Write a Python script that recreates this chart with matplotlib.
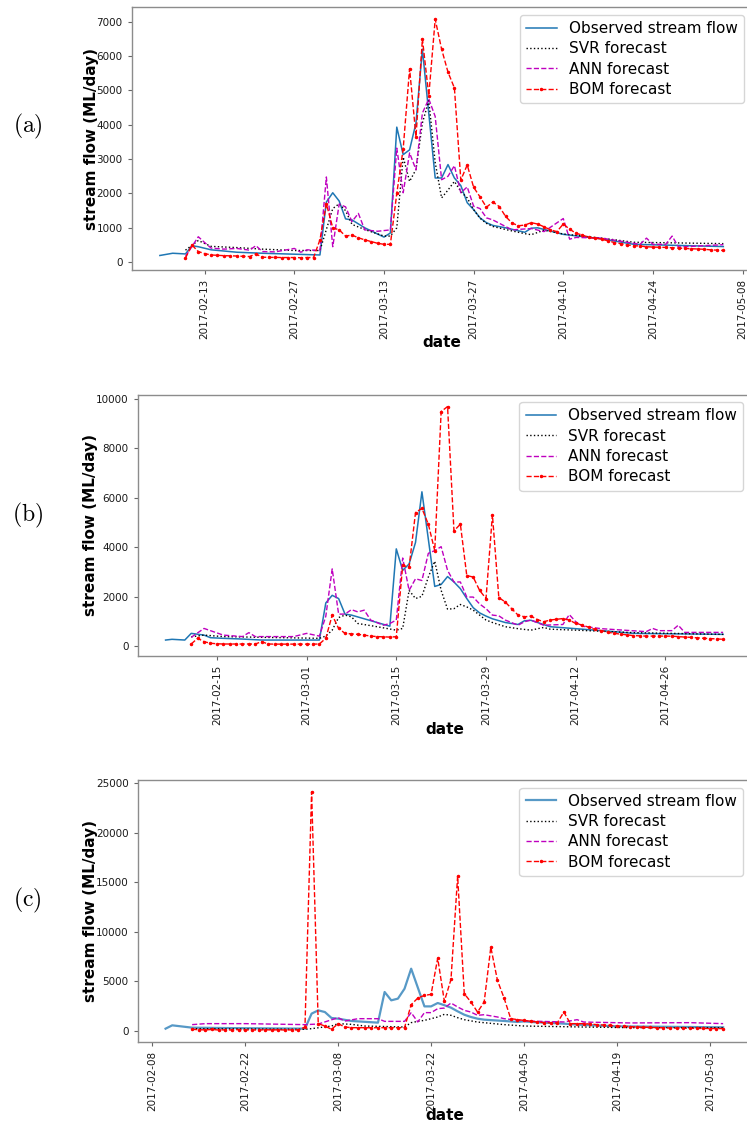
import matplotlib
matplotlib.use('Agg')
import matplotlib.pyplot as plt
import matplotlib.dates as mdates
import pandas as pd

# ---------------- Panel (a) ----------------
A_OBS_D = ['02-06','02-08','02-10','02-11','02-12','02-14','02-18','02-22','03-03','03-04','03-05','03-06','03-07','03-08','03-10','03-13','03-14','03-15','03-16','03-17','03-18','03-19','03-21','03-22','03-23','03-24','03-25','03-26','03-27','03-28','03-29','03-30','04-01','04-04','04-05','04-06','04-10','04-16','04-21','05-05']
A_OBS_V = [195,260,240,480,450,360,290,260,210,1750,2020,1780,1260,1230,1000,730,850,3930,3130,3270,4050,6200,2450,2450,2840,2450,2230,1730,1530,1290,1150,1070,1000,870,990,1000,810,680,520,455]

A_SVR_D = ['02-10','02-12','02-14','02-18','02-22','02-27','03-03','03-05','03-06','03-07','03-08','03-10','03-13','03-14','03-15','03-16','03-17','03-18','03-19','03-20','03-21','03-22','03-23','03-24','03-25','03-26','03-27','03-28','03-29','03-30','04-01','04-04','04-05','04-07','04-10','04-16','04-21','05-05']
A_SVR_V = [350,630,460,425,380,340,340,1560,1700,1500,1100,950,760,760,1000,3060,2350,2700,4050,4700,2900,1870,2100,2350,2060,1870,1530,1280,1130,1040,950,830,800,930,820,700,580,540]

A_ANN_D = ['02-10','02-12','02-13','02-14','02-16','02-18','02-20','02-21','02-22','02-24','02-27','02-28','03-01','03-03','03-04','03-05','03-06','03-07','03-08','03-09','03-10','03-12','03-14','03-15','03-16','03-17','03-18','03-19','03-20','03-21','03-22','03-23','03-24','03-25','03-26','03-27','03-28','03-29','03-30','04-02','04-05','04-07','04-10','04-11','04-12','04-16','04-22','04-23','04-24','04-26','04-27','04-28','05-05']
A_ANN_V = [165,740,570,410,380,400,350,480,310,300,400,290,360,340,2480,450,1690,1610,1180,1420,940,900,940,3320,2020,3180,2690,4340,4750,4240,2400,2500,2810,2020,2190,1630,1560,1290,1230,940,980,890,1270,670,720,700,520,700,520,520,760,440,510]

A_BOM_START = '2017-02-10'
A_BOM_V = [120,500,310,250,210,200,190,185,180,170,165,240,145,140,140,135,135,135,130,
           135,135,650,1700,1000,940,760,790,710,650,600,550,520,520,2000,3300,5630,3650,6500,4850,7070,6200,5530,5070,2390,2830,2180,1900,1600,1750,1620,
           1330,1140,1060,1080,1150,1110,1030,940,890,1110,960,840,790,720,700,670,620,570,540,500,480,470,450,440,435,430,420,410,400,390,
           385,375,360,350,340]
A_TICKS = ['2017-02-13','2017-02-27','2017-03-13','2017-03-27','2017-04-10','2017-04-24','2017-05-08']

# ---------------- Panel (b) ----------------
B_OBS_D = ['02-07','02-08','02-10','02-11','02-13','02-14','02-16','02-19','02-22','03-03','03-04','03-05','03-06','03-07','03-08','03-14','03-15','03-16','03-17','03-18','03-19','03-21','03-22','03-23','03-24','03-25','03-26','03-27','03-28','03-29','03-30','04-01','04-03','04-04','04-05','04-08','04-12','04-18','04-21','05-05']
B_OBS_V = [240,270,240,510,440,335,310,280,240,240,1740,2050,1920,1290,1250,800,3930,3060,3320,4190,6240,2410,2490,2810,2590,2320,1920,1550,1340,1210,1100,950,870,1020,1040,780,700,580,510,470]

B_SVR_D = ['02-11','02-13','02-16','02-22','03-03','03-04','03-05','03-06','03-07','03-08','03-09','03-12','03-15','03-16','03-17','03-18','03-19','03-20','03-21','03-22','03-23','03-24','03-25','03-26','03-27','03-28','03-29','03-30','04-01','04-03','04-05','04-07','04-08','04-12','04-21','05-05']
B_SVR_V = [370,440,380,350,310,400,640,1150,1250,1180,910,780,640,710,2250,1920,2010,2790,3430,2250,1490,1510,1680,1580,1450,1250,1050,950,780,700,640,750,680,640,540,470]

B_ANN_D = ['02-11','02-13','02-14','02-16','02-19','02-20','02-21','02-27','03-01','03-03','03-04','03-05','03-06','03-07','03-08','03-09','03-10','03-11','03-13','03-14','03-15','03-16','03-17','03-18','03-19','03-20','03-21','03-22','03-23','03-24','03-25','03-26','03-27','03-28','03-29','03-30','03-31','04-01','04-03','04-04','04-05','04-07','04-10','04-11','04-12','04-13','04-16','04-23','04-24','04-25','04-27','04-28','04-29','05-05']
B_ANN_V = [350,710,620,440,380,540,380,380,510,400,1200,3120,1290,1290,1470,1380,1450,1050,840,910,1050,3560,2250,2720,2650,3750,3860,4020,3060,2590,2590,1980,1980,1700,1510,1250,1220,1050,840,980,1050,840,870,1270,980,800,700,580,710,620,620,840,550,550]

B_BOM_START = '2017-02-11'
B_BOM_V = [80,310,175,110,90,80,80,80,80,80,80,175,80,75,75,75,75,75,
           75,75,80,310,1250,710,510,490,470,440,400,380,370,360,375,3260,3190,5400,5570,4930,3860,9490,9690,4660,4930,2850,2790,2250,1920,5310,1960,
           1780,1510,1250,1180,1210,1070,980,1050,1080,1110,1050,910,850,760,670,620,560,510,480,450,420,410,400,400,400,400,395,380,360,350,
           330,310,300,285,270]
B_TICKS = ['2017-02-15','2017-03-01','2017-03-15','2017-03-29','2017-04-12','2017-04-26']

# ---------------- Panel (c) ----------------
C_OBS_D = ['02-10','02-11','02-14','02-20','03-03','03-04','03-05','03-06','03-07','03-08','03-10','03-14','03-15','03-16','03-17','03-18','03-19','03-21','03-22','03-23','03-24','03-25','03-26','03-27','03-28','03-29','03-30','04-02','04-04','04-05','04-06','04-11','04-13','04-19','05-05']
C_OBS_V = [235,570,335,290,235,1750,2080,1910,1310,1240,1010,840,3930,3090,3260,4260,6280,2480,2480,2820,2600,2350,1980,1640,1410,1240,1140,1010,910,970,910,740,640,470,370]

C_SVR_D = ['02-14','02-22','03-03','03-04','03-07','03-08','03-10','03-12','03-18','03-19','03-20','03-21','03-22','03-23','03-24','03-25','03-26','03-27','03-29','04-02','04-05','04-14','04-21','05-05']
C_SVR_V = [235,200,170,235,500,740,670,500,400,840,970,1070,1240,1410,1680,1580,1340,1140,900,640,500,400,335,335]

C_ANN_D = ['02-14','02-16','02-22','03-03','03-05','03-08','03-09','03-11','03-14','03-15','03-18','03-19','03-20','03-21','03-22','03-23','03-24','03-25','03-26','03-27','03-28','03-29','03-30','04-01','04-02','04-05','04-11','04-13','04-14','04-21','04-30','05-05']
C_ANN_V = [640,740,740,640,700,1340,1000,1240,1240,970,970,1850,910,1850,1850,2250,2310,2820,2420,2080,1910,1580,1640,1410,1240,1010,910,1140,900,810,840,740]

C_BOM_START = '2017-02-14'
C_BOM_V = [170,130,110,150,100,120,100,140,100,110,90,130,100,120,100,
           110,100,400,24100,740,500,170,740,400,335,330,335,320,335,330,340,335,335,2650,3320,3590,3690,7340,2990,5200,15600,3760,2920,1910,2920,8450,
           5100,3320,1240,1150,1070,980,900,850,820,800,1910,740,740,740,700,640,600,560,500,470,440,400,380,360,340,320,300,290,280,270,
           260,255,250,245,240]
C_TICKS = ['2017-02-08','2017-02-22','2017-03-08','2017-03-22','2017-04-05','2017-04-19','2017-05-03']

PANEL_LABELS = ['(a)', '(b)', '(c)']
SERIES_LABELS = ['Observed stream flow', 'SVR forecast', 'ANN forecast', 'BOM forecast']
Y_LABEL = 'stream flow (ML/day)'
X_LABEL = 'date'


def md(lst):
    return pd.to_datetime(['2017-' + d for d in lst])


def daily(start, vals):
    return pd.date_range(start, periods=len(vals), freq='D')


W, H = 747, 1124
fig = plt.figure(figsize=(W / 100, H / 100), dpi=100)

# axes boxes in pixels: left, right, top, bottom
boxes = [(131.7, 751.5, 7.3, 270.0), (137.7, 751.0, 394.7, 656.0), (137.7, 751.0, 780.0, 1042.0)]
ylab_x = [91.5, 91.0, 91.0]
xlab_y = [342.7, 729.0, 1115.0]
label_y = [126, 515, 900]

panels = [
    (A_OBS_D, A_OBS_V, A_SVR_D, A_SVR_V, A_ANN_D, A_ANN_V, A_BOM_START, A_BOM_V, A_TICKS),
    (B_OBS_D, B_OBS_V, B_SVR_D, B_SVR_V, B_ANN_D, B_ANN_V, B_BOM_START, B_BOM_V, B_TICKS),
    (C_OBS_D, C_OBS_V, C_SVR_D, C_SVR_V, C_ANN_D, C_ANN_V, C_BOM_START, C_BOM_V, C_TICKS),
]

for i, (od, ov, sd, sv, ad, av, bs, bv, ticks) in enumerate(panels):
    l, r, t, b = boxes[i]
    ax = fig.add_axes([l / W, 1 - b / H, (r - l) / W, (b - t) / H])
    obs_lw, obs_alpha = (1.1, 1.0) if i < 2 else (1.6, 0.75)
    ax.plot(md(od), ov, color='#1f77b4', lw=obs_lw, alpha=obs_alpha, label=SERIES_LABELS[0])
    ax.plot(md(sd), sv, color='black', ls=':', lw=1.0, label=SERIES_LABELS[1])
    ax.plot(md(ad), av, color='m', ls='--', lw=1.0, label=SERIES_LABELS[2])
    ax.plot(daily(bs, bv), bv, color='red', ls='--', lw=1.0, marker='.', ms=3,
            label=SERIES_LABELS[3])

    ax.set_xticks(pd.to_datetime(ticks))
    ax.xaxis.set_major_formatter(mdates.DateFormatter('%Y-%m-%d'))
    ax.tick_params(axis='x', labelrotation=90)
    ax.tick_params(labelsize=7.5, colors='0.4', labelcolor='0.1', length=3)
    for s in ax.spines.values():
        s.set_color('0.55')
        s.set_linewidth(1.0)

    ax.set_ylabel(Y_LABEL, fontsize=11, fontweight='bold', va='center')
    ax.yaxis.set_label_coords((ylab_x[i] - l) / (r - l), 0.5)
    ax.set_xlabel(X_LABEL, fontsize=11, fontweight='bold', va='center')
    ax.xaxis.set_label_coords(((l + r) / 2 - l) / (r - l), (b - xlab_y[i]) / (b - t))

    ax.legend(loc='upper right', fontsize=11, labelspacing=0.35)

    fig.text(27.5 / W, 1 - label_y[i] / H, r'$\mathrm{' + PANEL_LABELS[i] + '}$',
             math_fontfamily='cm', fontsize=17, ha='center', va='center')

fig.savefig('out.png', dpi=100)
